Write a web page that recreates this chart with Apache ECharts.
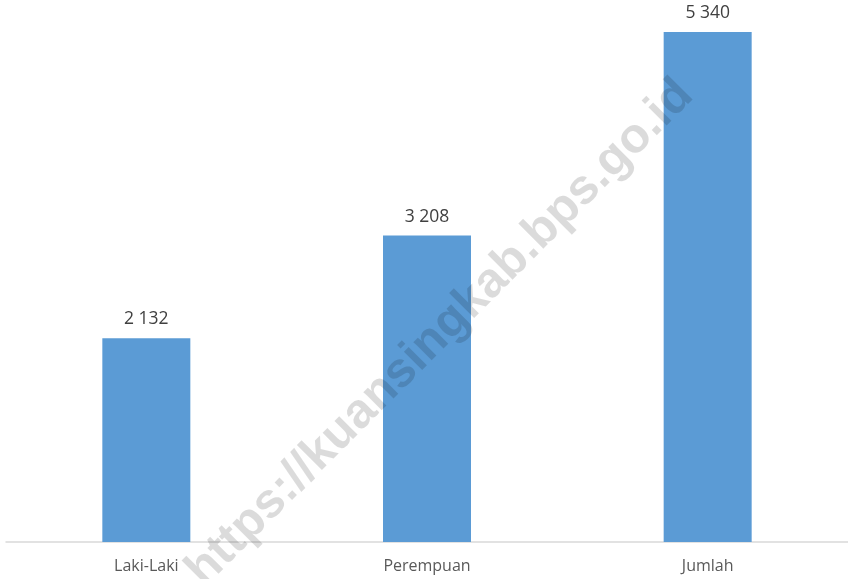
<!DOCTYPE html>
<html>
<head>
<meta charset="utf-8">
<script src="https://cdn.jsdelivr.net/npm/echarts@6/dist/echarts.min.js"></script>
<style>
html,body{margin:0;padding:0;background:#fff;}
#chart{width:848px;height:579px;}
</style>
</head>
<body>
<div id="chart"></div>
<script>
const categories = ['Laki-Laki', 'Perempuan', 'Jumlah'];
const values = [2132, 3208, 5340];
const watermark = 'https://kuansingkab.bps.go.id';

const fmt = v => String(v).replace(/\B(?=(\d{3})+(?!\d))/g, ' ');

const chart = echarts.init(document.getElementById('chart'));
chart.setOption({
  animation: false,
  backgroundColor: '#ffffff',
  grid: { left: 6, right: -4, top: 16.7, bottom: 37, containLabel: false },
  xAxis: {
    type: 'category',
    data: categories,
    axisLine: { show: true, lineStyle: { color: '#d9d9d9', width: 1.5 } },
    axisTick: { show: false },
    axisLabel: { color: '#595959', fontSize: 16, fontFamily: 'Open Sans', margin: 16 }
  },
  yAxis: {
    type: 'value',
    min: 0,
    max: 5500,
    show: false,
    splitLine: { show: false }
  },
  series: [{
    type: 'bar',
    data: values,
    barWidth: 88,
    itemStyle: { color: '#5b9bd5' },
    label: {
      show: true,
      position: 'top',
      distance: 10,
      color: '#404040',
      fontSize: 17.5,
      fontFamily: 'Open Sans',
      formatter: p => fmt(p.value)
    }
  }],
  graphic: [{
    type: 'text',
    z: 100,
    x: 440,
    y: 333,
    rotation: Math.PI / 4,
    style: {
      text: watermark,
      font: 'bold 49px Arial, "Liberation Sans", sans-serif',
      fill: 'rgba(0,0,0,0.14)',
      align: 'center',
      verticalAlign: 'middle'
    }
  }]
});
</script>
</body>
</html>
